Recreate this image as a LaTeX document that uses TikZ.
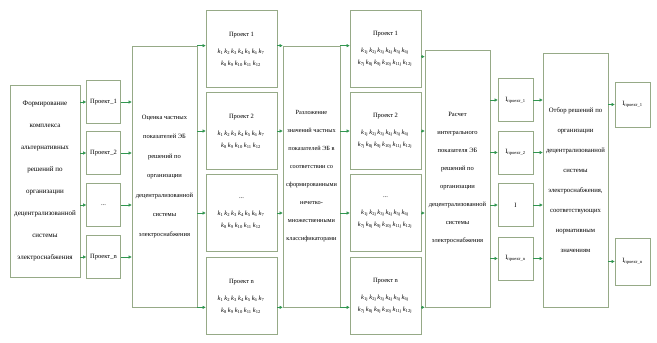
\documentclass[tikz,border=0pt]{standalone}
\usepackage{fontspec}
\setmainfont{Liberation Serif}
\usetikzlibrary{arrows.meta}
\definecolor{boxc}{RGB}{150,170,135}
\definecolor{arrc}{RGB}{50,150,80}
\tikzset{>/.tip={Triangle[length=3pt,width=3pt]}}
\tikzset{
  blk/.style={draw=boxc, line width=0.7pt, fill=white, inner sep=1pt, align=center, font=\fontsize{6.5}{18}\selectfont},
  small/.style={blk, minimum width=34pt, minimum height=43pt},
  proj/.style={blk, minimum width=71pt, minimum height=77pt, font=\fontsize{6.5}{12}\selectfont},
  big/.style={blk, minimum width=65pt},
  arr/.style={->, draw=arrc, line width=0.6pt},
}
\newcommand{\kidx}[1]{\textit{k}\textsubscript{#1}\,}
\newcommand{\kparts}{\kidx{1}\kidx{2}\kidx{3}\kidx{4}\kidx{5}\kidx{6}\kidx{7}\\\kidx{8}\kidx{9}\kidx{10}\kidx{11}\kidx{12}}
\newcommand{\kfuzzy}{\kidx{1j}\kidx{2j}\kidx{3j}\kidx{4j}\kidx{5j}\kidx{6j}\\\kidx{7j}\kidx{8j}\kidx{9j}\kidx{10j}\kidx{11j}\kidx{12j}}
\newcommand{\iproj}[1]{I\textsubscript{проект\_#1}}

\begin{document}
\begin{tikzpicture}[x=1pt, y=-1pt]
\useasboundingbox (0,0) rectangle (657,343);
\node[blk, minimum width=70pt, minimum height=192pt, font=\fontsize{7}{22}\selectfont] (f) at (45,181)
  {Формирование\\комплекса\\альтернативных\\решений по\\организации\\децентрализованной\\системы\\электроснабжения};
\node[small] (p1) at (103.5,102) {Проект\_1};
\node[small] (p2) at (103.5,153) {Проект\_2};
\node[small] (p3) at (103.5,205) {...};
\node[small] (p4) at (103.5,257) {Проект\_n};
\node[big, minimum height=261pt, font=\fontsize{6.5}{19.5}\selectfont] (oc) at (164.5,176.5)
  {Оценка частных\\показателей ЭБ\\решений по\\организации\\децентрализованной\\системы\\электроснабжения};
\node[proj] (k1) at (241.5,49)  {Проект 1\\[5pt]\kparts};
\node[proj] (k2) at (241.5,131) {Проект 2\\[5pt]\kparts};
\node[proj] (k3) at (241.5,213) {...\\[5pt]\kparts};
\node[proj] (k4) at (241.5,296) {Проект n\\[5pt]\kparts};
\node[blk, minimum width=57pt, minimum height=261pt, font=\fontsize{6.3}{18}\selectfont] (rz) at (311.5,176.5)
  {Разложение\\значений частных\\показателей ЭБ в\\соответствии со\\сформированными\\нечетко-\\множественными\\классификаторами};
\node[proj] (m1) at (385.5,49)  {Проект 1\\[5pt]\kfuzzy};
\node[proj] (m2) at (385.5,131) {Проект 2\\[5pt]\kfuzzy};
\node[proj] (m3) at (385.5,213) {...\\[5pt]\kfuzzy};
\node[proj] (m4) at (385.5,296) {Проект n\\[5pt]\kfuzzy};
\node[big, minimum height=257pt] (r) at (457.5,178.5)
  {Расчет\\интегрального\\показателя ЭБ\\решений по\\организации\\децентрализованной\\системы\\электроснабжения};
\node[small, minimum width=35pt] (i1) at (515.5,100)   {\iproj{1}};
\node[small, minimum width=35pt] (i2) at (515.5,152.5) {\iproj{2}};
\node[small, minimum width=35pt] (i3) at (515.5,205)   {I};
\node[small, minimum width=35pt] (i4) at (515.5,258.5) {\iproj{n}};
\node[big, minimum height=254pt, font=\fontsize{6.7}{20}\selectfont] (o) at (575.5,180)
  {Отбор решений по\\организации\\децентрализованной\\системы\\электроснабжения,\\соответствующих\\нормативным\\значениям};
\node[small, minimum width=35pt, minimum height=45pt] (s1) at (632.5,104.5) {\iproj{1}};
\node[small, minimum width=35pt, minimum height=47pt] (s2) at (632.5,261.5) {\iproj{n}};
\foreach \i in {1,...,4}
{
  \draw[arr] (f.east |- p\i) -- (p\i.west);
  \draw[arr] (p\i.east) -- (p\i -| oc.west);
  \draw[arr] (r.east |- i\i) -- (i\i.west);
  \draw[arr] (i\i.east) -- (i\i -| o.west);
}
\draw[arr] (oc.north east) -- (oc.north east -| k1.west);
\draw[arr] (oc.south east) -- (oc.south east -| k4.west);
\draw[arr] (k1.east |- rz.north west) -- (rz.north west);
\draw[arr] (k4.east |- rz.south west) -- (rz.south west);
\draw[arr] (rz.north east) -- (rz.north east -| m1.west);
\draw[arr] (rz.south east) -- (rz.south east -| m4.west);
\draw[arr] (m1.east |- r.north west) ++(0,7) -- ([yshift=-7pt]r.north west);
\draw[arr] (m4.east |- r.south west) -- (r.south west);
\foreach \i in {2,3}
{
  \draw[arr] (oc.east |- k\i) -- (k\i.west);
  \draw[arr] (k\i.east) -- (k\i -| rz.west);
  \draw[arr] (rz.east |- m\i) -- (m\i.west);
  \draw[arr] (m\i.east) -- (m\i -| r.west);
}
\foreach \i in {1,2}
  \draw[arr] (o.east |- s\i) -- (s\i.west);
\end{tikzpicture}
\end{document}
